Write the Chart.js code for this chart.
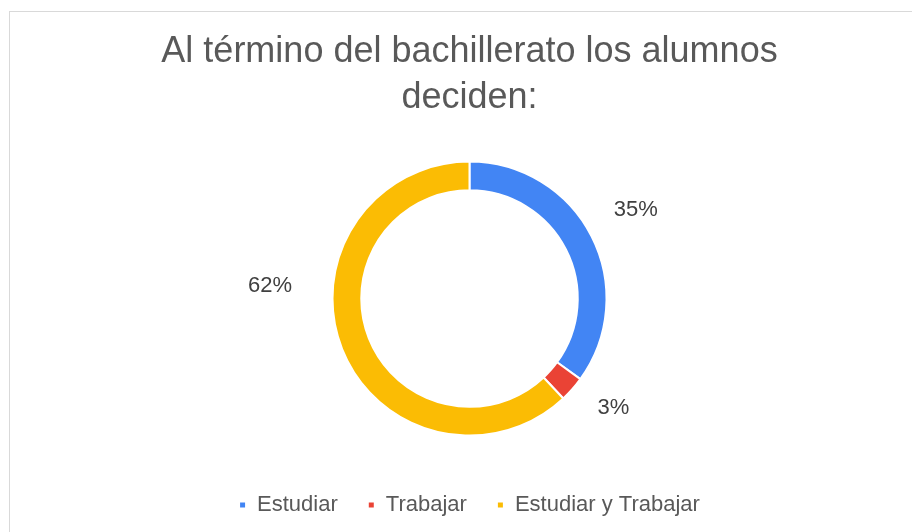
<!DOCTYPE html>
<html>
<head>
<meta charset="utf-8">
<script src="https://cdn.jsdelivr.net/npm/chart.js@4/dist/chart.umd.min.js"></script>
<style>
  html, body { margin: 0; padding: 0; background: #fff; }
  #wrap { position: relative; width: 912px; height: 532px; overflow: hidden; }
  #frame { position: absolute; left: 9px; top: 11px; width: 1000px; height: 1000px;
           border-top: 1px solid #d9d9d9; border-left: 1px solid #d9d9d9; box-sizing: border-box; }
  canvas { position: absolute; left: 0; top: 0; }
</style>
</head>
<body>
<div id="wrap">
  <div id="frame"></div>
  <canvas id="c" width="912" height="532"></canvas>
</div>
<script>
const categories = ['Estudiar', 'Trabajar', 'Estudiar y Trabajar'];
const values = [35, 3, 62];
const valueLabels = ['35%', '3%', '62%'];
const titleLines = ['Al término del bachillerato los alumnos', 'deciden:'];

const colors = ['#4285F4', '#EA4335', '#FBBC04'];
const labelNudge = [[6, -7], [9, -10], [-32, -79]];
const FONT = "'Liberation Sans', Arial, sans-serif";

const labelPlugin = {
  id: 'valueLabels',
  afterDatasetsDraw(chart) {
    const ctx = chart.ctx;
    const meta = chart.getDatasetMeta(0);
    ctx.save();
    ctx.font = '22px ' + FONT;
    ctx.fillStyle = '#404040';
    ctx.textAlign = 'center';
    ctx.textBaseline = 'middle';
    meta.data.forEach((arc, i) => {
      const p = arc.getProps(['x', 'y', 'startAngle', 'endAngle', 'outerRadius'], true);
      const mid = (p.startAngle + p.endAngle) / 2;
      const r = 180;
      const x = p.x + Math.cos(mid) * r + labelNudge[i][0];
      const y = p.y + Math.sin(mid) * r + labelNudge[i][1];
      ctx.fillText(valueLabels[i], x, y);
    });
    ctx.restore();
  }
};

new Chart(document.getElementById('c'), {
  type: 'doughnut',
  data: {
    labels: categories,
    datasets: [{
      data: values,
      backgroundColor: colors,
      borderColor: '#ffffff',
      borderWidth: 2,
      hoverOffset: 0,
      radius: 137
    }]
  },
  options: {
    responsive: false,
    animation: false,
    cutout: '79%',
    layout: { padding: { left: 27, right: 0, top: 29, bottom: 6 } },
    plugins: {
      title: {
        display: true,
        text: titleLines,
        color: '#595959',
        font: { family: FONT, size: 36, weight: 'normal', lineHeight: 1.28 },
        padding: { top: 0, bottom: 12 }
      },
      legend: {
        display: true,
        position: 'bottom',
        labels: {
          color: '#595959',
          font: { family: FONT, size: 22 },
          boxWidth: 7,
          boxHeight: 7,
          padding: 30
        }
      },
      tooltip: { enabled: false }
    }
  },
  plugins: [labelPlugin]
});
</script>
</body>
</html>
